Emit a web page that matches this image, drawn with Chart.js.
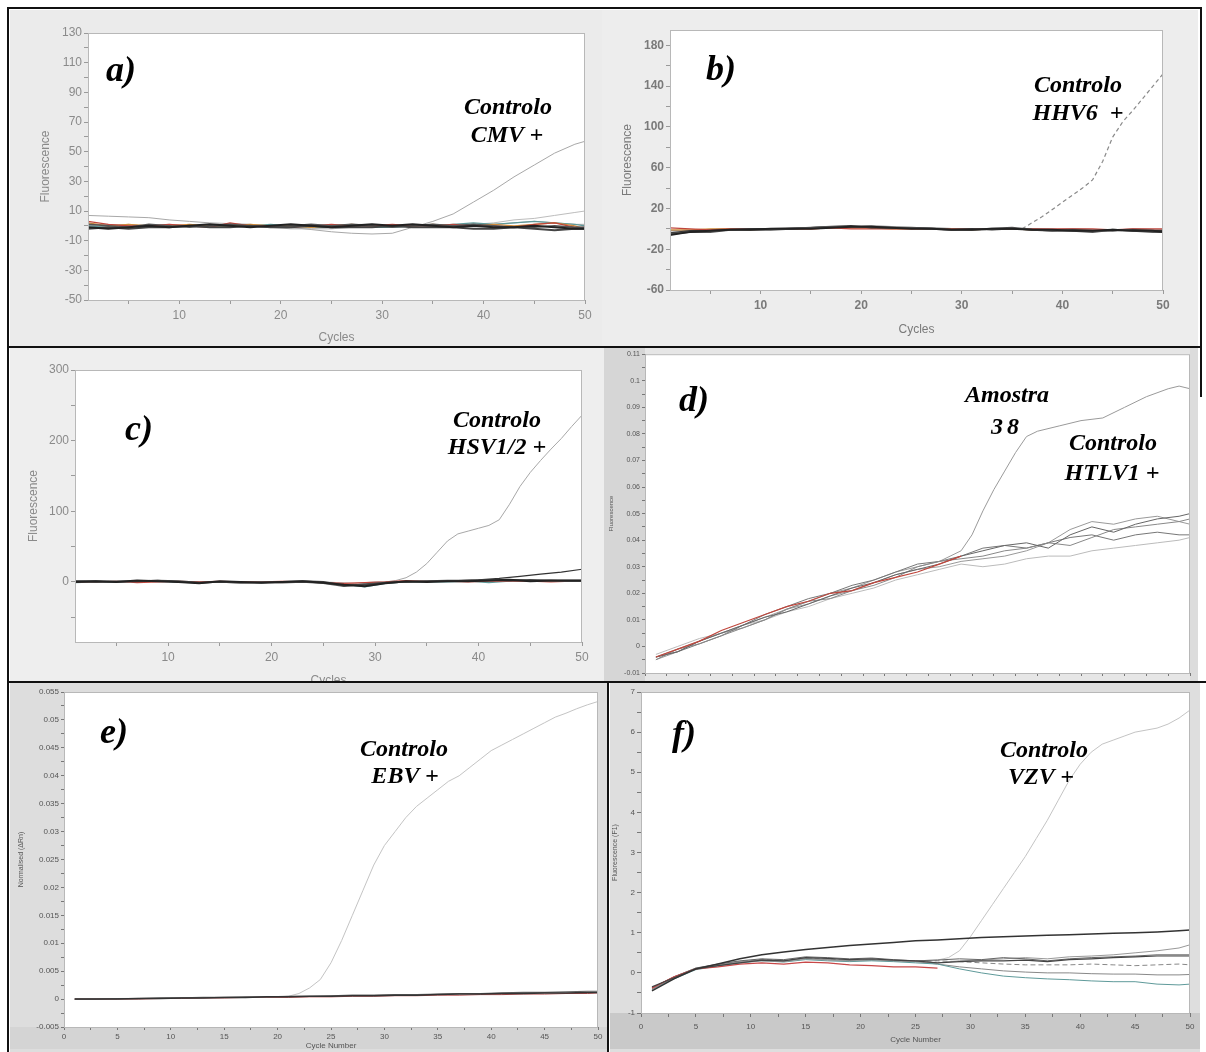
<!DOCTYPE html>
<html><head><meta charset="utf-8">
<script src="https://cdn.jsdelivr.net/npm/chart.js@4.4.1/dist/chart.umd.min.js"></script>
<style>
body{margin:0;background:#fff;}
#fig{position:relative;width:1206px;height:1052px;overflow:hidden;background:#fff;}
.pnl{position:absolute;}
.ln{position:absolute;background:#111;z-index:5;}
.lab{position:absolute;z-index:6;font-family:"Liberation Serif","DejaVu Serif",serif;font-weight:bold;font-style:italic;color:#000;transform:translate(-50%,-50%);white-space:pre;line-height:1;}
</style></head><body><div id="fig"></div>
<script>
// ---------- shared cycle grid ----------
const cyc26 = [1,3,5,7,9,11,13,15,17,19,21,23,25,27,29,31,33,35,37,39,41,43,45,47,49,50];

// ---------- panel a (CMV) ----------
const aXTicks = [5,10,15,20,25,30,35,40,45,50];
const aXLabels = ['','10','','20','','30','','40','','50'];
const aYTicks = [-50,-40,-30,-20,-10,0,10,20,30,40,50,60,70,80,90,100,110,120,130];
const aYLabels = ['-50','','-30','','-10','','10','','30','','50','','70','','90','','110','','130'];
const aCmv  = [7,6.5,6,5.5,4,3,2,1.5,1,0,-1,-2.5,-4,-5,-5.5,-5,-1,3,8,16,24,33,41,49,55,57];
const aPos2 = [0,0,1,0,0,0,1,0,0,0,0,0,0,1,1,0,0,1,0,1,2,4,5,7,9,10];
const aNeg1 = [-1,-2,-1,0,-1,0,1,0,-1,0,1,0,-1,0,1,0,1,0,-1,0,-1,-1,0,-1,-2,-2];
const aNeg2 = [1,0,-1,1,0,-1,0,1,0,-1,0,1,0,1,0,-1,0,1,0,1,0,-1,-1,0,-1,-1];
const aNeg3 = [3,1,0,0,1,0,-1,2,0,0,-1,0,1,0,0,1,0,0,1,0,0,-1,1,2,-1,-1];
const aNeg4 = [2,0,1,0,0,1,0,0,1,0,0,-1,0,1,0,0,0,1,0,0,1,0,1,2,0,-2];
const aNeg5 = [0,-1,0,-1,0,0,-1,0,0,1,0,-1,-1,0,-1,-1,0,0,1,2,1,2,3,2,1,0];
const aNeg6 = [-2,-1,-2,-1,-1,0,-1,-1,0,-1,-1,0,-1,-1,-1,0,-1,-1,-1,-2,-2,-1,-2,-3,-2,-2];
const aNeg7 = [0,1,0,0,1,0,0,0,0,-1,-2,-2,-2,-1,0,0,0,0,0,1,1,2,3,2,1,1];

// ---------- panel b (HHV6) ----------
const bYTicks = [-60,-40,-20,0,20,40,60,80,100,120,140,160,180];
const bYLabels = ['-60','','-20','','20','','60','','100','','140','','180'];
const bHhvX = [36,37,38,39,40,41,42,43,44,45,46,47,48,49,50];
const bHhvY = [0,6,12,19,26,33,40,48,66,90,105,116,128,140,152];
const bNeg1 = [-6,-3,-2,-1,-1,0,0,0,1,2,2,1,0,0,-1,-1,0,0,-1,-1,-2,-2,-1,-2,-2,-3];
const bNeg2 = [-4,-2,-2,-1,0,0,0,1,2,3,1,1,1,0,-1,0,-1,0,-1,-2,-1,-2,-2,-1,-2,-2];
const bNeg3 = [1,0,-1,0,0,0,0,0,1,0,0,0,0,0,0,0,0,0,0,0,0,0,-1,0,0,0];
const bNeg4 = [-5,-3,-3,-1,-1,-1,0,1,2,2,2,1,1,0,-1,-1,0,1,-1,-2,-2,-3,-1,-2,-3,-3];
const bNeg5 = [-1,-1,0,0,-1,0,0,0,1,1,1,0,0,0,0,-1,0,0,-1,-1,-1,-2,-1,-1,-2,-2];
const bNeg6 = [-2,-2,-1,0,0,0,1,1,2,2,3,2,1,1,0,0,0,0,0,-1,0,-1,-2,0,-1,-1];

// ---------- panel c (HSV1/2) ----------
const cYTicks = [-50,0,50,100,150,200,250,300];
const cYLabels = ['','0','','100','','200','','300'];
const cHsvX = [1,5,10,15,20,25,28,30,31,32,33,34,35,36,37,38,39,40,41,42,43,44,45,46,47,48,49,50];
const cHsvY = [0,1,0,0,-1,0,-2,0,0,2,6,14,26,42,58,68,72,76,80,88,110,135,155,172,188,203,220,236];
const cPos2X = [36,38,40,42,44,46,48,50];
const cPos2Y = [1,2,3,5,8,11,14,18];
const cNeg1 = [0,1,0,2,1,0,-2,1,0,-1,0,1,-1,-4,-6,-2,1,0,1,1,2,3,1,2,2,2];
const cNeg2 = [1,0,1,1,2,0,-1,0,-1,0,-1,0,-2,-6,-3,-1,0,1,1,2,2,3,2,2,1,1];
const cNeg3 = [0,0,1,-1,0,1,0,1,0,0,1,0,-1,-2,-1,0,2,1,1,0,1,1,1,0,1,1];
const cNeg4 = [-1,0,0,1,1,0,-1,0,0,-1,0,0,-1,-3,-7,-2,0,0,0,1,-1,1,2,1,1,2];
const cNeg5 = [1,1,0,1,2,1,-1,0,-1,-1,0,1,0,-5,-4,-1,0,1,2,2,3,2,3,2,2,2];

// ---------- panel d (HTLV1) ----------
const dXTicks = [0,2,4,6,8,10,12,14,16,18,20,22,24,26,28,30,32,34,36,38,40,42,44,46,48,50];
const dXLabels = dXTicks.map(() => '');
const dYTicks = [-0.01,-0.005,0,0.005,0.01,0.015,0.02,0.025,0.03,0.035,0.04,0.045,0.05,0.055,0.06,0.065,0.07,0.075,0.08,0.085,0.09,0.095,0.1,0.105,0.11];
const dYLabels = ['-0.01','','0','','0.01','','0.02','','0.03','','0.04','','0.05','','0.06','','0.07','','0.08','','0.09','','0.1','','0.11'];
const dAmX = [1,3,5,7,9,11,13,15,17,19,21,23,25,27,29,30,31,32,33,34,35,36,38,40,42,44,46,48,49,50];
const dAmY = [-0.004,-0.001,0.002,0.005,0.008,0.011,0.014,0.017,0.02,0.022,0.025,0.028,0.03,0.032,0.036,0.042,0.051,0.059,0.066,0.073,0.079,0.081,0.083,0.085,0.086,0.09,0.094,0.097,0.098,0.097];
const dNeg1 = [-0.004,-0.002,0.002,0.005,0.008,0.011,0.013,0.016,0.019,0.022,0.024,0.027,0.029,0.031,0.034,0.036,0.038,0.039,0.037,0.042,0.045,0.043,0.046,0.048,0.049,0.05];
const dNeg2 = [-0.005,-0.001,0.001,0.004,0.007,0.010,0.014,0.017,0.018,0.021,0.023,0.026,0.030,0.032,0.033,0.034,0.036,0.037,0.039,0.038,0.041,0.044,0.045,0.046,0.047,0.048];
const dNeg3 = [-0.004,-0.001,0.002,0.006,0.009,0.012,0.015,0.017,0.02,0.021,0.024,0.026,0.028,0.031,0.034];
const dNeg4 = [-0.003,0,0.003,0.005,0.008,0.010,0.013,0.015,0.018,0.020,0.022,0.025,0.027,0.029,0.031,0.030,0.031,0.033,0.034,0.034,0.036,0.037,0.038,0.039,0.040,0.041];
const dNeg5 = [-0.004,-0.002,0.001,0.004,0.008,0.012,0.015,0.018,0.020,0.023,0.025,0.028,0.031,0.032,0.034,0.037,0.038,0.037,0.039,0.041,0.042,0.040,0.042,0.043,0.042,0.042];
const dNeg6 = [-0.005,-0.002,0.002,0.005,0.007,0.010,0.014,0.016,0.019,0.021,0.024,0.027,0.029,0.030,0.032,0.033,0.034,0.036,0.039,0.044,0.047,0.046,0.048,0.049,0.047,0.046];

// ---------- panel e (EBV) ----------
const eXTicks = [0,2.5,5,7.5,10,12.5,15,17.5,20,22.5,25,27.5,30,32.5,35,37.5,40,42.5,45,47.5,50];
const eXLabels = ['0','','5','','10','','15','','20','','25','','30','','35','','40','','45','','50'];
const eYTicks = [-0.005,-0.0025,0,0.0025,0.005,0.0075,0.01,0.0125,0.015,0.0175,0.02,0.0225,0.025,0.0275,0.03,0.0325,0.035,0.0375,0.04,0.0425,0.045,0.0475,0.05,0.0525,0.055];
const eYLabels = ['-0.005','','0','','0.005','','0.01','','0.015','','0.02','','0.025','','0.03','','0.035','','0.04','','0.045','','0.05','','0.055'];
const eEbvX = [1,5,10,15,20,21,22,23,24,25,26,27,28,29,30,31,32,33,34,35,36,37,38,39,40,41,42,43,44,45,46,47,48,49,50];
const eEbvY = [0,0.0001,0.0002,0.0003,0.0004,0.0005,0.001,0.002,0.0035,0.0065,0.0105,0.015,0.0195,0.024,0.0275,0.03,0.0325,0.0345,0.036,0.0375,0.039,0.04,0.0415,0.043,0.0445,0.0455,0.0465,0.0475,0.0485,0.0495,0.0505,0.0512,0.052,0.0527,0.0533];
const eNeg1 = [0,0,0,0.0001,0.0001,0.0002,0.0002,0.0003,0.0003,0.0004,0.0004,0.0005,0.0005,0.0006,0.0006,0.0007,0.0007,0.0008,0.0009,0.0009,0.001,0.001,0.0011,0.0011,0.0012,0.0012];
const eNeg2 = [0,0,0.0001,0.0001,0.0002,0.0002,0.0003,0.0003,0.0004,0.0004,0.0005,0.0005,0.0006,0.0007,0.0007,0.0008,0.0008,0.0009,0.001,0.001,0.0011,0.0012,0.0012,0.0013,0.0014,0.0014];
const eNeg3 = [0,0,0,0,0.0001,0.0001,0.0002,0.0002,0.0003,0.0003,0.0003,0.0004,0.0004,0.0005,0.0005,0.0006,0.0006,0.0007,0.0007,0.0008,0.0008,0.0009,0.0009,0.001,0.001,0.0011];

// ---------- panel f (VZV) ----------
const fYTicks = [-1,-0.5,0,0.5,1,1.5,2,2.5,3,3.5,4,4.5,5,5.5,6,6.5,7];
const fYLabels = ['-1','','0','','1','','2','','3','','4','','5','','6','','7'];
const fVzvX = [1,3,5,7,9,11,13,15,17,19,21,23,25,27,28,29,30,31,32,33,34,35,36,37,38,39,40,41,42,43,44,45,46,47,48,49,50];
const fVzvY = [-0.4,-0.12,0.1,0.2,0.28,0.32,0.3,0.35,0.33,0.3,0.32,0.3,0.3,0.32,0.38,0.55,0.9,1.3,1.7,2.1,2.5,2.9,3.35,3.8,4.3,4.8,5.2,5.5,5.7,5.8,5.9,6.0,6.05,6.1,6.2,6.35,6.55];
const fNeg1 = [-0.45,-0.15,0.1,0.22,0.35,0.45,0.52,0.58,0.63,0.68,0.72,0.76,0.8,0.82,0.85,0.88,0.9,0.92,0.94,0.95,0.97,0.99,1.0,1.02,1.05,1.07];
const fNeg2 = [-0.4,-0.1,0.12,0.2,0.28,0.3,0.28,0.35,0.32,0.3,0.33,0.3,0.28,0.25,0.3,0.32,0.35,0.38,0.35,0.4,0.42,0.45,0.5,0.55,0.62,0.7];
const fNeg3 = [-0.35,-0.12,0.1,0.18,0.25,0.32,0.3,0.38,0.36,0.33,0.35,0.32,0.3,0.25,0.28,0.3,0.3,0.32,0.28,0.33,0.35,0.38,0.4,0.42,0.42,0.42];
const fNeg4 = [-0.4,-0.15,0.08,0.17,0.25,0.3,0.27,0.33,0.3,0.28,0.3,0.28,0.25,0.22,0.1,0,-0.08,-0.12,-0.15,-0.17,-0.2,-0.22,-0.22,-0.28,-0.3,-0.28];
const fNeg5 = [-0.38,-0.1,0.1,0.15,0.22,0.25,0.22,0.27,0.25,0.2,0.18,0.15,0.15,0.12];
const fNeg6 = [-0.42,-0.13,0.1,0.2,0.27,0.33,0.3,0.36,0.33,0.3,0.32,0.3,0.28,0.22,0.15,0.1,0.05,0.02,0,0,-0.02,-0.03,-0.03,-0.05,-0.05,-0.04];
const fNeg7 = [-0.4,-0.12,0.1,0.2,0.28,0.34,0.31,0.37,0.34,0.31,0.33,0.3,0.28,0.3,0.28,0.25,0.22,0.2,0.2,0.2,0.22,0.2,0.18,0.2,0.22,0.2];
const fNeg8 = [-0.37,-0.1,0.12,0.22,0.3,0.35,0.33,0.4,0.38,0.35,0.37,0.33,0.3,0.32,0.35,0.33,0.38,0.35,0.3,0.35,0.38,0.4,0.42,0.45,0.45,0.45];

// ---------- annotations ----------
const notes = [
  ['a)',121,69,36],['Controlo',508,106,24],['CMV +',507,134,24],
  ['b)',721,68,36],['Controlo',1078,84,24],['HHV6  +',1078,112,24],
  ['c)',139,428,36],['Controlo',497,419,24],['HSV1/2 +',497,446,24],
  ['d)',694,399,36],['Amostra',1007,394,24],['38',1007,426,24],['Controlo',1113,442,24],['HTLV1 +',1112,472,24],
  ['e)',114,731,36],['Controlo',404,748,24],['EBV +',405,775,24],
  ['f)',684,733,36],['Controlo',1044,749,24],['VZV +',1041,776,24]
];

// ---------- drawing helpers ----------
const bgPlugin = {
  id: 'panelBg',
  beforeDraw(chart, args, o) {
    const {ctx, chartArea: a, width, height} = chart;
    ctx.save();
    ctx.fillStyle = o.bg; ctx.fillRect(0, 0, width, height);
    if (o.leftStrip) { ctx.fillStyle = o.leftStrip; ctx.fillRect(0, 0, a.left, height); }
    if (o.rightStrip) { ctx.fillStyle = o.rightStrip; ctx.fillRect(a.right, 0, width - a.right, height); }
    if (o.bottomStrip) { ctx.fillStyle = o.bottomStrip; ctx.fillRect(0, a.bottom, width, height - a.bottom - 3); }
    ctx.fillStyle = '#ffffff'; ctx.fillRect(a.left, a.top, a.right - a.left, a.bottom - a.top);
    ctx.restore();
  },
  afterDraw(chart, args, o) {
    const {ctx, chartArea: a} = chart;
    ctx.save();
    ctx.strokeStyle = o.frame; ctx.lineWidth = 1;
    ctx.strokeRect(a.left + 0.5, a.top + 0.5, a.right - a.left - 1, a.bottom - a.top);
    ctx.restore();
  }
};

function S(x, y, c, w, dash) { return {x, y, c, w: w || 1, dash: dash || []}; }

function buildPanel(p) {
  const fig = document.getElementById('fig');
  const div = document.createElement('div');
  div.className = 'pnl';
  Object.assign(div.style, {left: p.left + 'px', top: p.top + 'px', width: p.w + 'px', height: p.h + 'px', zIndex: p.z || 1});
  const cv = document.createElement('canvas');
  cv.width = p.w; cv.height = p.h; cv.style.width = p.w + 'px'; cv.style.height = p.h + 'px';
  div.appendChild(cv); fig.appendChild(div);
  const tf = {family: 'Liberation Sans', size: p.tickSize, weight: p.tickWeight || 'normal'};
  new Chart(cv, {
    type: 'line',
    data: {datasets: p.series.map(s => ({
      data: s.y.map((v, i) => ({x: s.x[i], y: v})),
      borderColor: s.c, borderWidth: s.w, borderDash: s.dash,
      pointRadius: 0, tension: 0, fill: false
    }))},
    options: {
      responsive: false, animation: false, events: [],
      layout: {padding: p.pad},
      plugins: {legend: {display: false}, tooltip: {enabled: false},
        panelBg: {bg: p.bg, leftStrip: p.leftStrip, rightStrip: p.rightStrip, bottomStrip: p.bottomStrip, frame: p.frame || '#b8b8b8'}},
      scales: {
        x: {type: 'linear', min: p.xMin, max: p.xMax,
          afterBuildTicks: ax => { ax.ticks = p.xTicks.map(v => ({value: v})); },
          afterFit: ax => { ax.height = p.xH; },
          ticks: {autoSkip: false, maxRotation: 0, padding: p.xTickPad, color: p.tickColor, font: tf, callback: (v, i) => p.xLabels[i]},
          grid: {drawOnChartArea: false, drawTicks: true, tickLength: p.tickLen, color: p.axisColor},
          border: {display: true, color: p.axisColor},
          title: {display: !!p.xTitle, text: p.xTitle, color: p.titleColor, font: {family: 'Liberation Sans', size: p.titleSize}, padding: {top: 0, bottom: p.xTitlePad}}
        },
        y: {type: 'linear', min: p.yMin, max: p.yMax,
          afterBuildTicks: ax => { ax.ticks = p.yTicks.map(v => ({value: v})); },
          afterFit: ax => { ax.width = p.yW; },
          ticks: {autoSkip: false, padding: p.yTickPad, color: p.tickColor, font: tf, callback: (v, i) => p.yLabels[i]},
          grid: {drawOnChartArea: false, drawTicks: true, tickLength: p.tickLen, color: p.axisColor},
          border: {display: true, color: p.axisColor},
          title: {display: !!p.yTitle, text: p.yTitle, color: p.titleColor, font: {family: 'Liberation Sans', size: p.yTitleSize || p.titleSize}, padding: {top: p.yTitlePad, bottom: 0}}
        }
      }
    },
    plugins: [bgPlugin]
  });
}

const big = {tickSize: 12, tickColor: '#8a8a8a', axisColor: '#9a9a9a', titleColor: '#8a8a8a', titleSize: 12, tickLen: 4, xTickPad: 4, yTickPad: 2};
const small = {tickSize: 8, tickColor: '#555', axisColor: '#777', titleColor: '#555', titleSize: 8, tickLen: 3, xTickPad: 2, yTickPad: 2};

// panel a
buildPanel(Object.assign({}, big, {
  left: 10, top: 10, w: 592, h: 337, bg: '#ebebeb',
  pad: {top: 23, right: 17, left: 0, bottom: 0}, yW: 78, xH: 47,
  xMin: 1, xMax: 50, xTicks: aXTicks, xLabels: aXLabels,
  yMin: -50, yMax: 130, yTicks: aYTicks, yLabels: aYLabels,
  xTitle: 'Cycles', xTitlePad: 2, yTitle: 'Fluorescence', yTitlePad: 28,
  series: [
    S(cyc26, aNeg1, '#222', 2), S(cyc26, aNeg6, '#444', 2), S(cyc26, aNeg2, '#555', 1.5),
    S(cyc26, aNeg3, '#c0463c', 1.2), S(cyc26, aNeg4, '#d08a3a', 1.2), S(cyc26, aNeg5, '#5f9a9a', 1.2),
    S(cyc26, aNeg7, '#aaaaaa', 1), S(cyc26, aPos2, '#bdbdbd', 1), S(cyc26, aCmv, '#a8a8a8', 1)
  ]
}));

// panel b
buildPanel(Object.assign({}, big, {
  left: 602, top: 10, w: 596, h: 337, bg: '#ededed', tickColor: '#7a7a7a', titleColor: '#7a7a7a', tickWeight: 'bold',
  pad: {top: 20, right: 35, left: 0, bottom: 0}, yW: 68, xH: 57,
  xMin: 1, xMax: 50, xTicks: aXTicks, xLabels: aXLabels,
  yMin: -60, yMax: 195, yTicks: bYTicks, yLabels: bYLabels,
  xTitle: 'Cycles', xTitlePad: 10, yTitle: 'Fluorescence', yTitlePad: 18,
  series: [
    S(cyc26, bNeg1, '#222', 2), S(cyc26, bNeg4, '#555', 2), S(cyc26, bNeg2, '#333', 1.5),
    S(cyc26, bNeg3, '#c0463c', 1.2), S(cyc26, bNeg5, '#d08a3a', 1.2), S(cyc26, bNeg6, '#999', 1.5),
    S(bHhvX, bHhvY, '#8a8a8a', 1.2, [4, 3])
  ]
}));

// panel c
buildPanel(Object.assign({}, big, {
  left: 10, top: 348, w: 594, h: 340, bg: '#eeeeee',
  pad: {top: 22, right: 22, left: 0, bottom: 0}, yW: 65, xH: 46,
  xMin: 1, xMax: 50, xTicks: aXTicks, xLabels: aXLabels,
  yMin: -85, yMax: 300, yTicks: cYTicks, yLabels: cYLabels,
  xTitle: 'Cycles', xTitlePad: 0, yTitle: 'Fluorescence', yTitlePad: 16,
  series: [
    S(cyc26, cNeg1, '#222', 2), S(cyc26, cNeg5, '#444', 1.8), S(cyc26, cNeg2, '#555', 1.5),
    S(cyc26, cNeg3, '#c0463c', 1.2), S(cyc26, cNeg4, '#5f9a9a', 1.2),
    S(cPos2X, cPos2Y, '#333', 1.2), S(cHsvX, cHsvY, '#a8a8a8', 1)
  ]
}));

// panel d
buildPanel(Object.assign({}, small, {
  left: 604, top: 348, w: 594, h: 334, bg: '#e6e6e6', leftStrip: '#d6d6d6', rightStrip: '#dcdcdc', tickSize: 7,
  pad: {top: 6, right: 8, left: 0, bottom: 0}, yW: 41, xH: 9,
  xMin: 0, xMax: 50, xTicks: dXTicks, xLabels: dXLabels,
  yMin: -0.01, yMax: 0.11, yTicks: dYTicks, yLabels: dYLabels,
  yTitle: 'Fluorescence', yTitleSize: 6, yTitlePad: 4,
  series: [
    S(cyc26, dNeg3, '#c0463c', 1.2), S(cyc26, dNeg1, '#666', 1), S(cyc26, dNeg2, '#888', 1),
    S(cyc26, dNeg5, '#777', 1), S(cyc26, dNeg6, '#999', 1), S(cyc26, dNeg4, '#bbb', 1),
    S(dAmX, dAmY, '#9a9a9a', 1)
  ]
}));

// panel e
buildPanel(Object.assign({}, small, {
  left: 10, top: 683, w: 598, h: 369, bg: '#dddddd', bottomStrip: '#d4d4d4', z: 2,
  pad: {top: 9, right: 10, left: 0, bottom: 0}, yW: 54, xH: 25,
  xMin: 0, xMax: 50, xTicks: eXTicks, xLabels: eXLabels,
  yMin: -0.005, yMax: 0.055, yTicks: eYTicks, yLabels: eYLabels,
  xTitle: 'Cycle Number', xTitlePad: 1, yTitle: 'Normalised (ΔRn)', yTitleSize: 7, yTitlePad: 7,
  series: [
    S(cyc26, eNeg1, '#333', 1.5), S(cyc26, eNeg2, '#666', 1.2), S(cyc26, eNeg3, '#b04848', 1),
    S(eEbvX, eEbvY, '#c4c4c4', 1)
  ]
}));

// panel f
buildPanel(Object.assign({}, small, {
  left: 610, top: 683, w: 590, h: 369, bg: '#dedede', bottomStrip: '#c9c9c9', z: 2,
  pad: {top: 9, right: 10, left: 0, bottom: 0}, yW: 31, xH: 39, xTickPad: 5, tickLen: 4,
  xMin: 0, xMax: 50, xTicks: eXTicks, xLabels: eXLabels,
  yMin: -1, yMax: 7, yTicks: fYTicks, yLabels: fYLabels,
  xTitle: 'Cycle Number', xTitlePad: 7, yTitle: 'Fluorescence (F1)', yTitleSize: 7, yTitlePad: 1,
  series: [
    S(cyc26, fNeg1, '#333', 1.5), S(cyc26, fNeg3, '#444', 1.2), S(cyc26, fNeg5, '#c84848', 1.2),
    S(cyc26, fNeg8, '#666', 1), S(cyc26, fNeg2, '#999', 1), S(cyc26, fNeg4, '#5f9a9a', 1),
    S(cyc26, fNeg6, '#888', 1), S(cyc26, fNeg7, '#888', 1, [5, 3]),
    S(fVzvX, fVzvY, '#c4c4c4', 1)
  ]
}));

// frame lines
const fig = document.getElementById('fig');
[[7,7,1194,2],[7,7,2,1045],[1200,7,2,390],[7,346,1194,2],[7,681,1199,2],[607,681,2,371]].forEach(r => {
  const d = document.createElement('div'); d.className = 'ln';
  Object.assign(d.style, {left: r[0] + 'px', top: r[1] + 'px', width: r[2] + 'px', height: r[3] + 'px'});
  fig.appendChild(d);
});

// text labels
notes.forEach(n => {
  const d = document.createElement('div'); d.className = 'lab';
  d.textContent = n[0];
  Object.assign(d.style, {left: n[1] + 'px', top: n[2] + 'px', fontSize: n[3] + 'px'});
  if (n[0] === '38') d.style.letterSpacing = '4px';
  fig.appendChild(d);
});
</script></body></html>
